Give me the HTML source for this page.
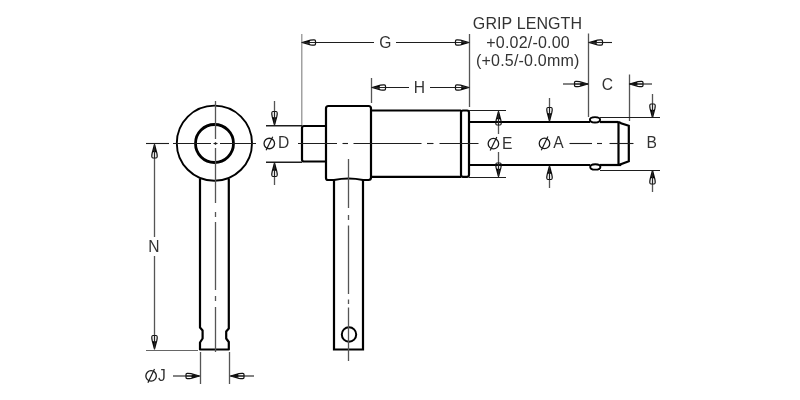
<!DOCTYPE html>
<html><head><meta charset="utf-8"><style>
html,body{margin:0;padding:0;background:#fff;}
body{width:800px;height:400px;overflow:hidden;}
svg{display:block;will-change:transform;}
text{font-family:"Liberation Sans",sans-serif;fill:#333;}
</style></head><body>
<svg width="800" height="400" viewBox="0 0 800 400">
<rect width="800" height="400" fill="#fff"/>
<circle cx="214.4" cy="143.2" r="37.6" fill="none" stroke="#000" stroke-width="1.9"/>
<circle cx="214.5" cy="143.5" r="19" fill="none" stroke="#000" stroke-width="2.8"/>
<path d="M200,179 L200,327.5 L202.6,330.5 L202.6,338.5 L200,342.5 L200,349.5 L228.8,349.5 L228.8,342 L226.2,338.5 L226.2,331.5 L228.8,328.5 L228.8,179" fill="none" stroke="#000" stroke-width="2.2" stroke-linejoin="round"/>
<line x1="215.5" y1="101" x2="215.5" y2="139" stroke="#555" stroke-width="1.3" />
<line x1="215.5" y1="142" x2="215.5" y2="145" stroke="#555" stroke-width="1.3" />
<line x1="215.5" y1="148" x2="215.5" y2="203" stroke="#555" stroke-width="1.3" />
<line x1="215.5" y1="212" x2="215.5" y2="217" stroke="#555" stroke-width="1.3" />
<line x1="215.5" y1="222" x2="215.5" y2="290" stroke="#555" stroke-width="1.3" />
<line x1="215.5" y1="296" x2="215.5" y2="301" stroke="#555" stroke-width="1.3" />
<line x1="215.5" y1="307" x2="215.5" y2="352" stroke="#555" stroke-width="1.3" />
<line x1="173" y1="143.5" x2="211" y2="143.5" stroke="#1e1e1e" stroke-width="1.1" />
<line x1="213.5" y1="143.5" x2="217.5" y2="143.5" stroke="#1e1e1e" stroke-width="1.1" />
<line x1="220" y1="143.5" x2="256" y2="143.5" stroke="#1e1e1e" stroke-width="1.1" />
<line x1="146" y1="143.5" x2="169" y2="143.5" stroke="#1e1e1e" stroke-width="1.1" />
<line x1="146" y1="350.5" x2="198" y2="350.5" stroke="#666" stroke-width="1.1" />
<line x1="154.5" y1="145" x2="154.5" y2="237" stroke="#555" stroke-width="1.3" />
<line x1="154.5" y1="256" x2="154.5" y2="348" stroke="#555" stroke-width="1.3" />
<path d="M154.50,144.50 L152.20,153.00 Q151.10,158.00 152.90,158.00 L156.10,158.00 Q157.90,158.00 156.80,153.00 Z" fill="none" stroke="#111" stroke-width="1.2" stroke-linejoin="round"/>
<path d="M154.50,144.50 L152.90,152.00 L154.70,152.50 L156.40,152.00 Z" fill="#000"/>
<line x1="154.5" y1="144.5" x2="154.50" y2="158.00" stroke="#222" stroke-width="1"/>
<path d="M154.50,349.00 L156.80,340.50 Q157.90,335.50 156.10,335.50 L152.90,335.50 Q151.10,335.50 152.20,340.50 Z" fill="none" stroke="#111" stroke-width="1.2" stroke-linejoin="round"/>
<path d="M154.50,349.00 L156.10,341.50 L154.30,341.00 L152.60,341.50 Z" fill="#000"/>
<line x1="154.5" y1="349" x2="154.50" y2="335.50" stroke="#222" stroke-width="1"/>
<text transform="translate(154,252.2) scale(0.93,1)" x="0" y="0" font-size="16.8" text-anchor="middle">N</text>
<line x1="200.5" y1="352" x2="200.5" y2="384" stroke="#555" stroke-width="1.3" />
<line x1="229.5" y1="352" x2="229.5" y2="384" stroke="#555" stroke-width="1.3" />
<line x1="173" y1="376" x2="199" y2="376" stroke="#1e1e1e" stroke-width="1.1" />
<line x1="231" y1="376" x2="254" y2="376" stroke="#1e1e1e" stroke-width="1.1" />
<path d="M199.50,376.00 L191.00,373.70 Q186.00,372.60 186.00,374.40 L186.00,377.60 Q186.00,379.40 191.00,378.30 Z" fill="none" stroke="#111" stroke-width="1.2" stroke-linejoin="round"/>
<path d="M199.50,376.00 L192.00,374.40 L191.50,376.20 L192.00,377.90 Z" fill="#000"/>
<line x1="199.5" y1="376" x2="186.00" y2="376.00" stroke="#222" stroke-width="1"/>
<path d="M230.50,376.00 L239.00,378.30 Q244.00,379.40 244.00,377.60 L244.00,374.40 Q244.00,372.60 239.00,373.70 Z" fill="none" stroke="#111" stroke-width="1.2" stroke-linejoin="round"/>
<path d="M230.50,376.00 L238.00,377.60 L238.50,375.80 L238.00,374.10 Z" fill="#000"/>
<line x1="230.5" y1="376" x2="244.00" y2="376.00" stroke="#222" stroke-width="1"/>
<circle cx="151.1" cy="375.9" r="5.25" fill="none" stroke="#1a1a1a" stroke-width="1.3"/>
<line x1="154.5" y1="369.09999999999997" x2="147.9" y2="382.7" stroke="#1a1a1a" stroke-width="1.2"/>
<text transform="translate(158,381.3) scale(0.93,1)" x="0" y="0" font-size="16.8" text-anchor="start">J</text>
<path d="M326,126 L304,126 Q302,126 302,128 L302,159.5 Q302,161.5 304,161.5 L326,161.5" fill="none" stroke="#000" stroke-width="2.2"/>
<path d="M334,180 L328,180 Q326,180 326,178 L326,108.5 Q326,106 328.5,106 L368.5,106 Q371,106 371,108.5 L371,177.5 Q371,180 368.5,180 L363,180" fill="none" stroke="#000" stroke-width="2.2"/>
<line x1="371" y1="110.5" x2="461" y2="110.5" stroke="#000" stroke-width="2.2" />
<line x1="371" y1="176.8" x2="461" y2="176.8" stroke="#000" stroke-width="2.2" />
<rect x="461" y="110.5" width="8" height="66.3" rx="2" fill="none" stroke="#000" stroke-width="2.2"/>
<line x1="469" y1="122" x2="590" y2="122" stroke="#000" stroke-width="2.2" />
<line x1="600" y1="122" x2="618" y2="122" stroke="#000" stroke-width="2.2" />
<line x1="469" y1="165" x2="590" y2="165" stroke="#000" stroke-width="2.2" />
<line x1="600" y1="165" x2="621" y2="165" stroke="#000" stroke-width="2.2" />
<ellipse cx="595" cy="119.8" rx="5.1" ry="2.7" fill="none" stroke="#000" stroke-width="1.9"/>
<ellipse cx="595.3" cy="166.9" rx="5.1" ry="2.7" fill="none" stroke="#000" stroke-width="1.9"/>
<line x1="618.5" y1="122" x2="618.5" y2="165" stroke="#000" stroke-width="2.2" />
<path d="M617,122 Q619.5,122 621,123.2 L628.8,125.8 L628.8,161.2 L621.5,164 Q620,165 618,165" fill="none" stroke="#000" stroke-width="2.2"/>
<path d="M334,180 L334,349.5 L363,349.5 L363,180" fill="none" stroke="#000" stroke-width="2.2"/>
<path d="M334,180 Q348.5,177 363,180" fill="none" stroke="#000" stroke-width="2.2"/>
<circle cx="349" cy="334.5" r="7.2" fill="none" stroke="#000" stroke-width="2"/>
<line x1="348.5" y1="159" x2="348.5" y2="208" stroke="#555" stroke-width="1.3" />
<line x1="348.5" y1="215" x2="348.5" y2="220" stroke="#555" stroke-width="1.3" />
<line x1="348.5" y1="225.5" x2="348.5" y2="294" stroke="#555" stroke-width="1.3" />
<line x1="348.5" y1="299.5" x2="348.5" y2="304" stroke="#555" stroke-width="1.3" />
<line x1="348.5" y1="307.5" x2="348.5" y2="361" stroke="#555" stroke-width="1.3" />
<line x1="298" y1="143.5" x2="337" y2="143.5" stroke="#1e1e1e" stroke-width="1.1" />
<line x1="342.5" y1="143.5" x2="348" y2="143.5" stroke="#1e1e1e" stroke-width="1.1" />
<line x1="353.5" y1="143.5" x2="421.5" y2="143.5" stroke="#1e1e1e" stroke-width="1.1" />
<line x1="427" y1="143.5" x2="433.5" y2="143.5" stroke="#1e1e1e" stroke-width="1.1" />
<line x1="439.5" y1="143.5" x2="478.5" y2="143.5" stroke="#1e1e1e" stroke-width="1.1" />
<line x1="569.5" y1="143.5" x2="592" y2="143.5" stroke="#1e1e1e" stroke-width="1.1" />
<line x1="597" y1="143.5" x2="602" y2="143.5" stroke="#1e1e1e" stroke-width="1.1" />
<line x1="609.5" y1="143.5" x2="633.5" y2="143.5" stroke="#1e1e1e" stroke-width="1.1" />
<line x1="301.8" y1="34" x2="301.8" y2="125" stroke="#8a8a8a" stroke-width="1.2" />
<line x1="469.5" y1="34" x2="469.5" y2="107" stroke="#555" stroke-width="1.3" />
<line x1="302" y1="42.5" x2="374" y2="42.5" stroke="#1e1e1e" stroke-width="1.1" />
<line x1="396" y1="42.5" x2="469" y2="42.5" stroke="#1e1e1e" stroke-width="1.1" />
<path d="M302.00,42.50 L310.50,44.80 Q315.50,45.90 315.50,44.10 L315.50,40.90 Q315.50,39.10 310.50,40.20 Z" fill="none" stroke="#111" stroke-width="1.2" stroke-linejoin="round"/>
<path d="M302.00,42.50 L309.50,44.10 L310.00,42.30 L309.50,40.60 Z" fill="#000"/>
<line x1="302" y1="42.5" x2="315.50" y2="42.50" stroke="#222" stroke-width="1"/>
<path d="M469.00,42.50 L460.50,40.20 Q455.50,39.10 455.50,40.90 L455.50,44.10 Q455.50,45.90 460.50,44.80 Z" fill="none" stroke="#111" stroke-width="1.2" stroke-linejoin="round"/>
<path d="M469.00,42.50 L461.50,40.90 L461.00,42.70 L461.50,44.40 Z" fill="#000"/>
<line x1="469" y1="42.5" x2="455.50" y2="42.50" stroke="#222" stroke-width="1"/>
<text transform="translate(385.3,47.6) scale(0.93,1)" x="0" y="0" font-size="16.8" text-anchor="middle">G</text>
<line x1="371.5" y1="78" x2="371.5" y2="103" stroke="#555" stroke-width="1.3" />
<line x1="372" y1="87.5" x2="409" y2="87.5" stroke="#1e1e1e" stroke-width="1.1" />
<line x1="430" y1="87.5" x2="469" y2="87.5" stroke="#1e1e1e" stroke-width="1.1" />
<path d="M372.00,87.50 L380.50,89.80 Q385.50,90.90 385.50,89.10 L385.50,85.90 Q385.50,84.10 380.50,85.20 Z" fill="none" stroke="#111" stroke-width="1.2" stroke-linejoin="round"/>
<path d="M372.00,87.50 L379.50,89.10 L380.00,87.30 L379.50,85.60 Z" fill="#000"/>
<line x1="372" y1="87.5" x2="385.50" y2="87.50" stroke="#222" stroke-width="1"/>
<path d="M469.00,87.50 L460.50,85.20 Q455.50,84.10 455.50,85.90 L455.50,89.10 Q455.50,90.90 460.50,89.80 Z" fill="none" stroke="#111" stroke-width="1.2" stroke-linejoin="round"/>
<path d="M469.00,87.50 L461.50,85.90 L461.00,87.70 L461.50,89.40 Z" fill="#000"/>
<line x1="469" y1="87.5" x2="455.50" y2="87.50" stroke="#222" stroke-width="1"/>
<text transform="translate(419.3,92.9) scale(0.93,1)" x="0" y="0" font-size="16.8" text-anchor="middle">H</text>
<line x1="588.5" y1="33.5" x2="588.5" y2="117" stroke="#555" stroke-width="1.3" />
<line x1="589" y1="42.5" x2="612" y2="42.5" stroke="#1e1e1e" stroke-width="1.1" />
<path d="M589.00,42.50 L597.50,44.80 Q602.50,45.90 602.50,44.10 L602.50,40.90 Q602.50,39.10 597.50,40.20 Z" fill="none" stroke="#111" stroke-width="1.2" stroke-linejoin="round"/>
<path d="M589.00,42.50 L596.50,44.10 L597.00,42.30 L596.50,40.60 Z" fill="#000"/>
<line x1="589" y1="42.5" x2="602.50" y2="42.50" stroke="#222" stroke-width="1"/>
<text x="527.5" y="29" font-size="16" text-anchor="middle" letter-spacing="0.1">GRIP LENGTH</text>
<text x="528.1" y="47.7" font-size="16" text-anchor="middle" letter-spacing="0.2">+0.02/-0.00</text>
<text x="527.8" y="65.5" font-size="16" text-anchor="middle" letter-spacing="0.2">(+0.5/-0.0mm)</text>
<line x1="629.5" y1="74.5" x2="629.5" y2="121" stroke="#555" stroke-width="1.3" />
<line x1="563" y1="84" x2="588" y2="84" stroke="#1e1e1e" stroke-width="1.1" />
<path d="M588.00,84.00 L579.50,81.70 Q574.50,80.60 574.50,82.40 L574.50,85.60 Q574.50,87.40 579.50,86.30 Z" fill="none" stroke="#111" stroke-width="1.2" stroke-linejoin="round"/>
<path d="M588.00,84.00 L580.50,82.40 L580.00,84.20 L580.50,85.90 Z" fill="#000"/>
<line x1="588" y1="84" x2="574.50" y2="84.00" stroke="#222" stroke-width="1"/>
<line x1="630" y1="84" x2="652" y2="84" stroke="#1e1e1e" stroke-width="1.1" />
<path d="M629.50,84.00 L638.00,86.30 Q643.00,87.40 643.00,85.60 L643.00,82.40 Q643.00,80.60 638.00,81.70 Z" fill="none" stroke="#111" stroke-width="1.2" stroke-linejoin="round"/>
<path d="M629.50,84.00 L637.00,85.60 L637.50,83.80 L637.00,82.10 Z" fill="#000"/>
<line x1="629.5" y1="84" x2="643.00" y2="84.00" stroke="#222" stroke-width="1"/>
<text transform="translate(607.5,89.8) scale(0.93,1)" x="0" y="0" font-size="16.8" text-anchor="middle">C</text>
<line x1="600" y1="117.5" x2="660" y2="117.5" stroke="#1e1e1e" stroke-width="1.1" />
<line x1="600" y1="170.5" x2="660" y2="170.5" stroke="#1e1e1e" stroke-width="1.1" />
<line x1="652.5" y1="94" x2="652.5" y2="117" stroke="#555" stroke-width="1.3" />
<path d="M652.50,117.50 L654.80,109.00 Q655.90,104.00 654.10,104.00 L650.90,104.00 Q649.10,104.00 650.20,109.00 Z" fill="none" stroke="#111" stroke-width="1.2" stroke-linejoin="round"/>
<path d="M652.50,117.50 L654.10,110.00 L652.30,109.50 L650.60,110.00 Z" fill="#000"/>
<line x1="652.5" y1="117.5" x2="652.50" y2="104.00" stroke="#222" stroke-width="1"/>
<line x1="652.5" y1="171" x2="652.5" y2="192" stroke="#555" stroke-width="1.3" />
<path d="M652.50,170.50 L650.20,179.00 Q649.10,184.00 650.90,184.00 L654.10,184.00 Q655.90,184.00 654.80,179.00 Z" fill="none" stroke="#111" stroke-width="1.2" stroke-linejoin="round"/>
<path d="M652.50,170.50 L650.90,178.00 L652.70,178.50 L654.40,178.00 Z" fill="#000"/>
<line x1="652.5" y1="170.5" x2="652.50" y2="184.00" stroke="#222" stroke-width="1"/>
<text transform="translate(651.6,148.4) scale(0.93,1)" x="0" y="0" font-size="16.8" text-anchor="middle">B</text>
<line x1="549.5" y1="98" x2="549.5" y2="120.5" stroke="#555" stroke-width="1.3" />
<path d="M549.50,121.00 L551.80,112.50 Q552.90,107.50 551.10,107.50 L547.90,107.50 Q546.10,107.50 547.20,112.50 Z" fill="none" stroke="#111" stroke-width="1.2" stroke-linejoin="round"/>
<path d="M549.50,121.00 L551.10,113.50 L549.30,113.00 L547.60,113.50 Z" fill="#000"/>
<line x1="549.5" y1="121" x2="549.50" y2="107.50" stroke="#222" stroke-width="1"/>
<line x1="549.5" y1="167" x2="549.5" y2="188" stroke="#555" stroke-width="1.3" />
<path d="M549.50,166.00 L547.20,174.50 Q546.10,179.50 547.90,179.50 L551.10,179.50 Q552.90,179.50 551.80,174.50 Z" fill="none" stroke="#111" stroke-width="1.2" stroke-linejoin="round"/>
<path d="M549.50,166.00 L547.90,173.50 L549.70,174.00 L551.40,173.50 Z" fill="#000"/>
<line x1="549.5" y1="166" x2="549.50" y2="179.50" stroke="#222" stroke-width="1"/>
<circle cx="544.5" cy="143.4" r="5.25" fill="none" stroke="#1a1a1a" stroke-width="1.3"/>
<line x1="547.9" y1="136.6" x2="541.3" y2="150.20000000000002" stroke="#1a1a1a" stroke-width="1.2"/>
<text transform="translate(553.3,148) scale(0.93,1)" x="0" y="0" font-size="16.8" text-anchor="start">A</text>
<line x1="469" y1="110.5" x2="506" y2="110.5" stroke="#1e1e1e" stroke-width="1.1" />
<line x1="469" y1="177.5" x2="506" y2="177.5" stroke="#1e1e1e" stroke-width="1.1" />
<line x1="498.5" y1="112" x2="498.5" y2="134" stroke="#555" stroke-width="1.3" />
<path d="M498.50,111.50 L496.20,120.00 Q495.10,125.00 496.90,125.00 L500.10,125.00 Q501.90,125.00 500.80,120.00 Z" fill="none" stroke="#111" stroke-width="1.2" stroke-linejoin="round"/>
<path d="M498.50,111.50 L496.90,119.00 L498.70,119.50 L500.40,119.00 Z" fill="#000"/>
<line x1="498.5" y1="111.5" x2="498.50" y2="125.00" stroke="#222" stroke-width="1"/>
<line x1="498.5" y1="152" x2="498.5" y2="176" stroke="#555" stroke-width="1.3" />
<path d="M498.50,176.50 L500.80,168.00 Q501.90,163.00 500.10,163.00 L496.90,163.00 Q495.10,163.00 496.20,168.00 Z" fill="none" stroke="#111" stroke-width="1.2" stroke-linejoin="round"/>
<path d="M498.50,176.50 L500.10,169.00 L498.30,168.50 L496.60,169.00 Z" fill="#000"/>
<line x1="498.5" y1="176.5" x2="498.50" y2="163.00" stroke="#222" stroke-width="1"/>
<circle cx="493.4" cy="143.7" r="5.25" fill="none" stroke="#1a1a1a" stroke-width="1.3"/>
<line x1="496.79999999999995" y1="136.89999999999998" x2="490.2" y2="150.5" stroke="#1a1a1a" stroke-width="1.2"/>
<text transform="translate(502,148.5) scale(0.93,1)" x="0" y="0" font-size="16.8" text-anchor="start">E</text>
<line x1="266" y1="125.8" x2="302" y2="125.8" stroke="#1e1e1e" stroke-width="1.4" />
<line x1="266" y1="162.2" x2="302" y2="162.2" stroke="#1e1e1e" stroke-width="1.4" />
<line x1="274.5" y1="101" x2="274.5" y2="124" stroke="#555" stroke-width="1.3" />
<path d="M274.50,125.00 L276.80,116.50 Q277.90,111.50 276.10,111.50 L272.90,111.50 Q271.10,111.50 272.20,116.50 Z" fill="none" stroke="#111" stroke-width="1.2" stroke-linejoin="round"/>
<path d="M274.50,125.00 L276.10,117.50 L274.30,117.00 L272.60,117.50 Z" fill="#000"/>
<line x1="274.5" y1="125" x2="274.50" y2="111.50" stroke="#222" stroke-width="1"/>
<line x1="274.5" y1="164" x2="274.5" y2="185" stroke="#555" stroke-width="1.3" />
<path d="M274.50,163.00 L272.20,171.50 Q271.10,176.50 272.90,176.50 L276.10,176.50 Q277.90,176.50 276.80,171.50 Z" fill="none" stroke="#111" stroke-width="1.2" stroke-linejoin="round"/>
<path d="M274.50,163.00 L272.90,170.50 L274.70,171.00 L276.40,170.50 Z" fill="#000"/>
<line x1="274.5" y1="163" x2="274.50" y2="176.50" stroke="#222" stroke-width="1"/>
<circle cx="269.3" cy="143.5" r="5.25" fill="none" stroke="#1a1a1a" stroke-width="1.3"/>
<line x1="272.7" y1="136.7" x2="266.1" y2="150.3" stroke="#1a1a1a" stroke-width="1.2"/>
<text transform="translate(278,148.4) scale(0.93,1)" x="0" y="0" font-size="16.8" text-anchor="start">D</text>
</svg>
</body></html>
